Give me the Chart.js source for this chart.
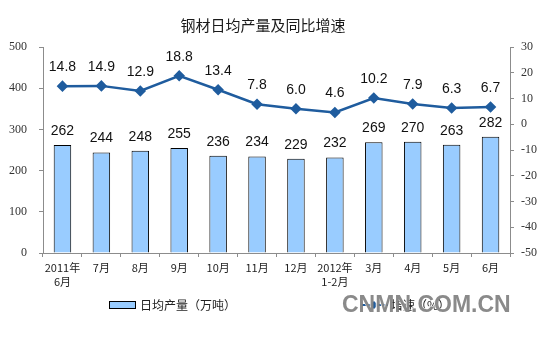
<!DOCTYPE html>
<html>
<head>
<meta charset="utf-8">
<script src="https://cdn.jsdelivr.net/npm/chart.js@4.4.1/dist/chart.umd.min.js"></script>
<style>
  html, body { margin: 0; padding: 0; background: #fff; }
  #wrap { width: 560px; height: 341px; }
</style>
</head>
<body>
<div id="wrap"><canvas id="c" width="560" height="341"></canvas></div>
<script>
// Monthly categories (two-line labels)
const categories = [
  ['2011年', '6月'], ['7月'], ['8月'], ['9月'], ['10月'], ['11月'],
  ['12月'], ['2012年', '1-2月'], ['3月'], ['4月'], ['5月'], ['6月']
];
// Daily average output (10k tonnes)
const dailyOutput = [262, 244, 248, 255, 236, 234, 229, 232, 269, 270, 263, 282];
// Year-on-year growth (%)
const growthRate = [14.8, 14.9, 12.9, 18.8, 13.4, 7.8, 6.0, 4.6, 10.2, 7.9, 6.3, 6.7];

const chartTitle = '钢材日均产量及同比增速';
const barLegend = '日均产量（万吨）';
const lineLegend = '增速（%）';
const watermark = 'CNMN.COM.CN';

const barFill = '#99CCFF';
const lineColor = '#1F5C9E';
const axisColor = '#8C8C8C';

// Value labels above bars and points, plus title, legend and watermark
const decorations = {
  id: 'decorations',
  afterDatasetsDraw(chart) {
    const ctx = chart.ctx;
    ctx.save();
    ctx.fillStyle = '#111';
    ctx.font = '14px "Liberation Sans", Arial, sans-serif';
    ctx.textAlign = 'center';
    ctx.textBaseline = 'middle';
    chart.getDatasetMeta(0).data.forEach((el, i) => {
      ctx.fillText(String(dailyOutput[i]), el.x, el.y - 14);
    });
    chart.getDatasetMeta(1).data.forEach((el, i) => {
      ctx.fillText(growthRate[i].toFixed(1), el.x, el.y - 19);
    });
    ctx.restore();
  },
  afterDraw(chart) {
    const ctx = chart.ctx;
    ctx.save();
    // title
    ctx.fillStyle = '#1a1a1a';
    ctx.font = '15px "Noto Sans CJK SC", sans-serif';
    ctx.textAlign = 'center';
    ctx.textBaseline = 'middle';
    ctx.fillText(chartTitle, 263, 25);

    // legend: bar swatch
    ctx.fillStyle = barFill;
    ctx.strokeStyle = '#000';
    ctx.lineWidth = 1;
    ctx.fillRect(109.5, 301.5, 26, 7);
    ctx.strokeRect(109.5, 301.5, 26, 7);
    ctx.fillStyle = '#222';
    ctx.font = '12px "Noto Sans CJK SC", sans-serif';
    ctx.textAlign = 'left';
    ctx.fillText(barLegend, 140, 305);

    // legend: line sample with diamond
    ctx.strokeStyle = lineColor;
    ctx.lineWidth = 2;
    ctx.beginPath();
    ctx.moveTo(360, 305);
    ctx.lineTo(388, 305);
    ctx.stroke();
    ctx.fillStyle = lineColor;
    ctx.beginPath();
    ctx.moveTo(374, 301); ctx.lineTo(378, 305); ctx.lineTo(374, 309); ctx.lineTo(370, 305);
    ctx.closePath();
    ctx.fill();
    ctx.fillStyle = '#222';
    ctx.fillText(lineLegend, 391, 305);

    // watermark
    ctx.font = 'bold 23px "Liberation Sans", Arial, sans-serif';
    ctx.textAlign = 'left';
    ctx.fillStyle = 'rgba(255,255,255,0.9)';
    ctx.fillText(watermark, 341, 305);
    ctx.fillStyle = 'rgba(125,125,125,0.9)';
    ctx.fillText(watermark, 342, 306);
    ctx.restore();
  }
};

new Chart(document.getElementById('c'), {
  data: {
    labels: categories,
    datasets: [
      {
        type: 'bar',
        label: barLegend,
        data: dailyOutput,
        yAxisID: 'yL',
        backgroundColor: barFill,
        borderColor: '#000',
        borderWidth: 1,
        barPercentage: 0.45,
        categoryPercentage: 1.0,
        order: 2
      },
      {
        type: 'line',
        label: lineLegend,
        data: growthRate,
        yAxisID: 'yR',
        borderColor: lineColor,
        backgroundColor: lineColor,
        borderWidth: 2.5,
        pointStyle: 'rectRot',
        pointRadius: 4,
        pointBackgroundColor: lineColor,
        pointBorderColor: lineColor,
        tension: 0,
        order: 1
      }
    ]
  },
  options: {
    responsive: false,
    animation: false,
    devicePixelRatio: 1,
    layout: { padding: { top: 47, left: 0, right: 0, bottom: 0 } },
    plugins: {
      legend: { display: false },
      title: { display: false },
      tooltip: { enabled: false }
    },
    scales: {
      x: {
        position: 'bottom',
        grid: { drawOnChartArea: false, offset: true, tickLength: 4, color: axisColor },
        border: { color: axisColor },
        ticks: {
          color: '#222',
          font: { family: '"Noto Sans CJK SC", sans-serif', size: 11, lineHeight: 1.25 },
          maxRotation: 0,
          autoSkip: false,
          padding: 4
        },
        afterFit(s) { s.height = 88; }
      },
      yL: {
        position: 'left',
        min: 0, max: 500,
        grid: { drawOnChartArea: false, tickLength: 4, color: axisColor },
        border: { color: axisColor },
        ticks: {
          stepSize: 100,
          color: '#333',
          padding: 12,
          font: { family: '"Liberation Serif", "Times New Roman", serif', size: 12 }
        },
        afterFit(s) { s.width = 43; }
      },
      yR: {
        position: 'right',
        min: -50, max: 30,
        grid: { drawOnChartArea: false, tickLength: 4, color: axisColor },
        border: { color: axisColor },
        ticks: {
          stepSize: 10,
          color: '#333',
          padding: 7,
          font: { family: '"Liberation Serif", "Times New Roman", serif', size: 12 }
        },
        afterFit(s) { s.width = 50; }
      }
    }
  },
  plugins: [decorations]
});
</script>
</body>
</html>
